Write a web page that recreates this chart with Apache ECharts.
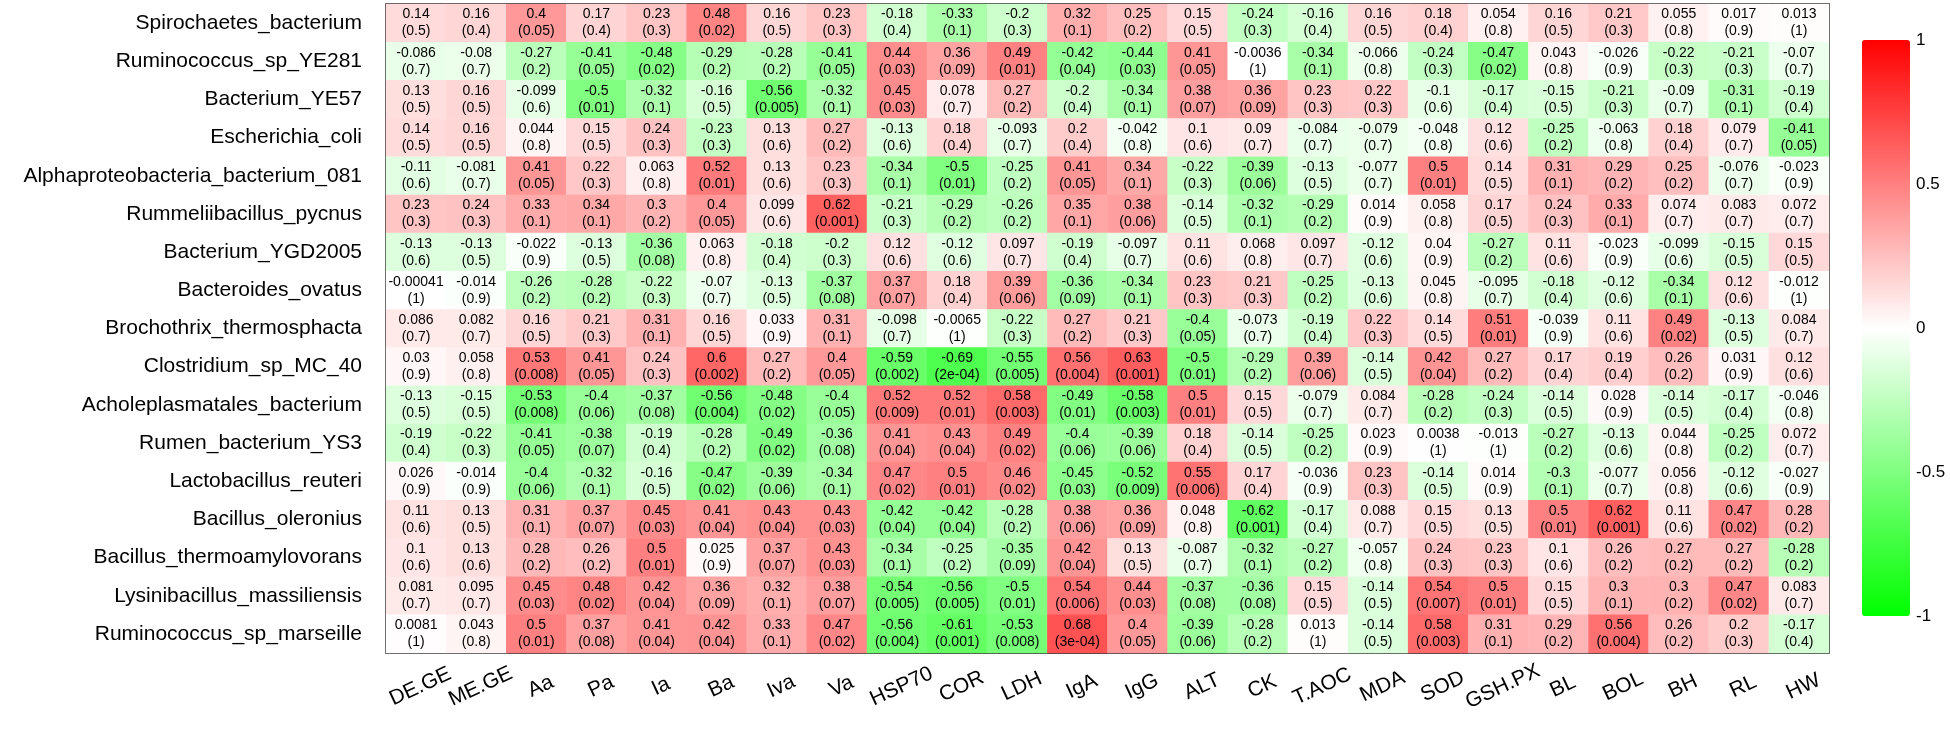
<!DOCTYPE html>
<html><head><meta charset="utf-8">
<script src="https://cdn.jsdelivr.net/npm/echarts@6/dist/echarts.min.js"></script>
<style>html,body{margin:0;padding:0;background:#fff}#c{width:1950px;height:733px}</style>
</head><body><div id="c"></div>
<script>
const rowNames = ["Spirochaetes_bacterium","Ruminococcus_sp_YE281","Bacterium_YE57","Escherichia_coli","Alphaproteobacteria_bacterium_081","Rummeliibacillus_pycnus","Bacterium_YGD2005","Bacteroides_ovatus","Brochothrix_thermosphacta","Clostridium_sp_MC_40","Acholeplasmatales_bacterium","Rumen_bacterium_YS3","Lactobacillus_reuteri","Bacillus_oleronius","Bacillus_thermoamylovorans","Lysinibacillus_massiliensis","Ruminococcus_sp_marseille"];
const colNames = ["DE.GE","ME.GE","Aa","Pa","Ia","Ba","Iva","Va","HSP70","COR","LDH","IgA","IgG","ALT","CK","T.AOC","MDA","SOD","GSH.PX","BL","BOL","BH","RL","HW"];
const legendTicks = [-1, -0.5, 0, 0.5, 1];

const rVals = [
 [0.14,0.16,0.4,0.17,0.23,0.48,0.16,0.23,-0.18,-0.33,-0.2,0.32,0.25,0.15,-0.24,-0.16,0.16,0.18,0.054,0.16,0.21,0.055,0.017,0.013],
 [-0.086,-0.08,-0.27,-0.41,-0.48,-0.29,-0.28,-0.41,0.44,0.36,0.49,-0.42,-0.44,0.41,-0.0036,-0.34,-0.066,-0.24,-0.47,0.043,-0.026,-0.22,-0.21,-0.07],
 [0.13,0.16,-0.099,-0.5,-0.32,-0.16,-0.56,-0.32,0.45,0.078,0.27,-0.2,-0.34,0.38,0.36,0.23,0.22,-0.1,-0.17,-0.15,-0.21,-0.09,-0.31,-0.19],
 [0.14,0.16,0.044,0.15,0.24,-0.23,0.13,0.27,-0.13,0.18,-0.093,0.2,-0.042,0.1,0.09,-0.084,-0.079,-0.048,0.12,-0.25,-0.063,0.18,0.079,-0.41],
 [-0.11,-0.081,0.41,0.22,0.063,0.52,0.13,0.23,-0.34,-0.5,-0.25,0.41,0.34,-0.22,-0.39,-0.13,-0.077,0.5,0.14,0.31,0.29,0.25,-0.076,-0.023],
 [0.23,0.24,0.33,0.34,0.3,0.4,0.099,0.62,-0.21,-0.29,-0.26,0.35,0.38,-0.14,-0.32,-0.29,0.014,0.058,0.17,0.24,0.33,0.074,0.083,0.072],
 [-0.13,-0.13,-0.022,-0.13,-0.36,0.063,-0.18,-0.2,0.12,-0.12,0.097,-0.19,-0.097,0.11,0.068,0.097,-0.12,0.04,-0.27,0.11,-0.023,-0.099,-0.15,0.15],
 [-0.00041,-0.014,-0.26,-0.28,-0.22,-0.07,-0.13,-0.37,0.37,0.18,0.39,-0.36,-0.34,0.23,0.21,-0.25,-0.13,0.045,-0.095,-0.18,-0.12,-0.34,0.12,-0.012],
 [0.086,0.082,0.16,0.21,0.31,0.16,0.033,0.31,-0.098,-0.0065,-0.22,0.27,0.21,-0.4,-0.073,-0.19,0.22,0.14,0.51,-0.039,0.11,0.49,-0.13,0.084],
 [0.03,0.058,0.53,0.41,0.24,0.6,0.27,0.4,-0.59,-0.69,-0.55,0.56,0.63,-0.5,-0.29,0.39,-0.14,0.42,0.27,0.17,0.19,0.26,0.031,0.12],
 [-0.13,-0.15,-0.53,-0.4,-0.37,-0.56,-0.48,-0.4,0.52,0.52,0.58,-0.49,-0.58,0.5,0.15,-0.079,0.084,-0.28,-0.24,-0.14,0.028,-0.14,-0.17,-0.046],
 [-0.19,-0.22,-0.41,-0.38,-0.19,-0.28,-0.49,-0.36,0.41,0.43,0.49,-0.4,-0.39,0.18,-0.14,-0.25,0.023,0.0038,-0.013,-0.27,-0.13,0.044,-0.25,0.072],
 [0.026,-0.014,-0.4,-0.32,-0.16,-0.47,-0.39,-0.34,0.47,0.5,0.46,-0.45,-0.52,0.55,0.17,-0.036,0.23,-0.14,0.014,-0.3,-0.077,0.056,-0.12,-0.027],
 [0.11,0.13,0.31,0.37,0.45,0.41,0.43,0.43,-0.42,-0.42,-0.28,0.38,0.36,0.048,-0.62,-0.17,0.088,0.15,0.13,0.5,0.62,0.11,0.47,0.28],
 [0.1,0.13,0.28,0.26,0.5,0.025,0.37,0.43,-0.34,-0.25,-0.35,0.42,0.13,-0.087,-0.32,-0.27,-0.057,0.24,0.23,0.1,0.26,0.27,0.27,-0.28],
 [0.081,0.095,0.45,0.48,0.42,0.36,0.32,0.38,-0.54,-0.56,-0.5,0.54,0.44,-0.37,-0.36,0.15,-0.14,0.54,0.5,0.15,0.3,0.3,0.47,0.083],
 [0.0081,0.043,0.5,0.37,0.41,0.42,0.33,0.47,-0.56,-0.61,-0.53,0.68,0.4,-0.39,-0.28,0.013,-0.14,0.58,0.31,0.29,0.56,0.26,0.2,-0.17]
];
const pVals = [
 [0.5,0.4,0.05,0.4,0.3,0.02,0.5,0.3,0.4,0.1,0.3,0.1,0.2,0.5,0.3,0.4,0.5,0.4,0.8,0.5,0.3,0.8,0.9,1],
 [0.7,0.7,0.2,0.05,0.02,0.2,0.2,0.05,0.03,0.09,0.01,0.04,0.03,0.05,1,0.1,0.8,0.3,0.02,0.8,0.9,0.3,0.3,0.7],
 [0.5,0.5,0.6,0.01,0.1,0.5,0.005,0.1,0.03,0.7,0.2,0.4,0.1,0.07,0.09,0.3,0.3,0.6,0.4,0.5,0.3,0.7,0.1,0.4],
 [0.5,0.5,0.8,0.5,0.3,0.3,0.6,0.2,0.6,0.4,0.7,0.4,0.8,0.6,0.7,0.7,0.7,0.8,0.6,0.2,0.8,0.4,0.7,0.05],
 [0.6,0.7,0.05,0.3,0.8,0.01,0.6,0.3,0.1,0.01,0.2,0.05,0.1,0.3,0.06,0.5,0.7,0.01,0.5,0.1,0.2,0.2,0.7,0.9],
 [0.3,0.3,0.1,0.1,0.2,0.05,0.6,0.001,0.3,0.2,0.2,0.1,0.06,0.5,0.1,0.2,0.9,0.8,0.5,0.3,0.1,0.7,0.7,0.7],
 [0.6,0.5,0.9,0.5,0.08,0.8,0.4,0.3,0.6,0.6,0.7,0.4,0.7,0.6,0.8,0.7,0.6,0.9,0.2,0.6,0.9,0.6,0.5,0.5],
 [1,0.9,0.2,0.2,0.3,0.7,0.5,0.08,0.07,0.4,0.06,0.09,0.1,0.3,0.3,0.2,0.6,0.8,0.7,0.4,0.6,0.1,0.6,1],
 [0.7,0.7,0.5,0.3,0.1,0.5,0.9,0.1,0.7,1,0.3,0.2,0.3,0.05,0.7,0.4,0.3,0.5,0.01,0.9,0.6,0.02,0.5,0.7],
 [0.9,0.8,0.008,0.05,0.3,0.002,0.2,0.05,0.002,0.0002,0.005,0.004,0.001,0.01,0.2,0.06,0.5,0.04,0.2,0.4,0.4,0.2,0.9,0.6],
 [0.5,0.5,0.008,0.06,0.08,0.004,0.02,0.05,0.009,0.01,0.003,0.01,0.003,0.01,0.5,0.7,0.7,0.2,0.3,0.5,0.9,0.5,0.4,0.8],
 [0.4,0.3,0.05,0.07,0.4,0.2,0.02,0.08,0.04,0.04,0.02,0.06,0.06,0.4,0.5,0.2,0.9,1,1,0.2,0.6,0.8,0.2,0.7],
 [0.9,0.9,0.06,0.1,0.5,0.02,0.06,0.1,0.02,0.01,0.02,0.03,0.009,0.006,0.4,0.9,0.3,0.5,0.9,0.1,0.7,0.8,0.6,0.9],
 [0.6,0.5,0.1,0.07,0.03,0.04,0.04,0.03,0.04,0.04,0.2,0.06,0.09,0.8,0.001,0.4,0.7,0.5,0.5,0.01,0.001,0.6,0.02,0.2],
 [0.6,0.6,0.2,0.2,0.01,0.9,0.07,0.03,0.1,0.2,0.09,0.04,0.5,0.7,0.1,0.2,0.8,0.3,0.3,0.6,0.2,0.2,0.2,0.2],
 [0.7,0.7,0.03,0.02,0.04,0.09,0.1,0.07,0.005,0.005,0.01,0.006,0.03,0.08,0.08,0.5,0.5,0.007,0.01,0.5,0.1,0.2,0.02,0.7],
 [1,0.8,0.01,0.08,0.04,0.04,0.1,0.02,0.004,0.001,0.008,0.0003,0.05,0.06,0.2,1,0.5,0.003,0.1,0.2,0.004,0.2,0.3,0.4]
];

function fmtP(p){
  if (p < 0.001) {
    const e = Math.floor(Math.log10(p));
    const m = Math.round(p / Math.pow(10, e));
    const ae = Math.abs(e);
    return m + 'e' + (e < 0 ? '-' : '+') + (ae < 10 ? '0' + ae : ae);
  }
  return String(p);
}

const data = [];
rVals.forEach((row, i) => row.forEach((v, j) => data.push([j, i, v, pVals[i][j]])));

const FONT = 'Liberation Sans, Arial, sans-serif';
const chart = echarts.init(document.getElementById('c'), null, {renderer: 'canvas'});
chart.setOption({
  animation: false,
  backgroundColor: '#fff',
  grid: [
    {left: 386, top: 4, width: 1443, height: 649, show: true, borderColor: '#000', borderWidth: 1.5, backgroundColor: 'transparent'},
    {left: 1862, top: 40, width: 48, height: 576, show: false}
  ],
  xAxis: [
    {type: 'category', data: colNames, gridIndex: 0, position: 'bottom',
     axisLine: {show: false}, axisTick: {show: false}, splitLine: {show: false},
     axisLabel: {interval: 0, rotate: 25, fontSize: 21, color: '#000', fontFamily: FONT, margin: 24, align: 'center', verticalAlign: 'top'}},
    {type: 'value', gridIndex: 1, show: false, min: 0, max: 1}
  ],
  yAxis: [
    {type: 'category', data: rowNames, gridIndex: 0, inverse: true,
     axisLine: {show: false}, axisTick: {show: false}, splitLine: {show: false},
     axisLabel: {interval: 0, fontSize: 21, color: '#000', fontFamily: FONT, margin: 24}},
    {type: 'value', gridIndex: 1, min: -1, max: 1, interval: 0.5, position: 'right',
     axisLine: {show: false}, splitLine: {show: false},
     axisTick: {show: false},
     axisLabel: {fontSize: 17, color: '#000', fontFamily: FONT, margin: 6,
       formatter: v => legendTicks.indexOf(v) >= 0 ? String(v) : ''}}
  ],
  visualMap: {
    type: 'continuous', min: -1, max: 1, dimension: 2, seriesIndex: 0,
    left: 1862, top: 40, itemWidth: 48, itemHeight: 576,
    calculable: false, showLabel: false, text: ['', ''], padding: 0,
    inRange: {color: ['#00FF00', '#FFFFFF', '#FF0000']}
  },
  series: [{
    type: 'heatmap', xAxisIndex: 0, yAxisIndex: 0, data: data,
    itemStyle: {borderWidth: 0},
    label: {show: true, color: '#000', fontSize: 14, fontFamily: FONT, lineHeight: 17,
      formatter: p => p.value[2] + '\n(' + fmtP(p.value[3]) + ')'},
    emphasis: {disabled: true}
  }]
});
</script></body></html>
